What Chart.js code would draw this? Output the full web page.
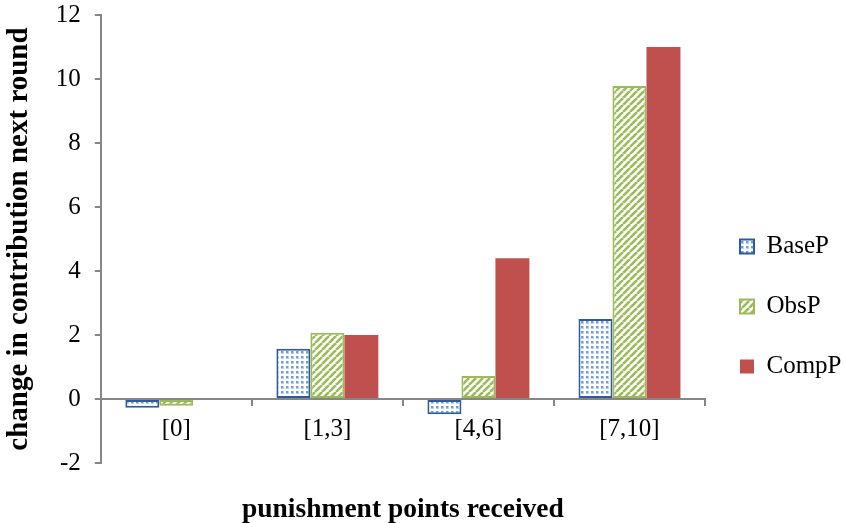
<!DOCTYPE html>
<html><head><meta charset="utf-8">
<script src="https://cdn.jsdelivr.net/npm/chart.js@4"></script>
<style>html,body{margin:0;padding:0;background:#fff}#wrap{width:845px;height:523px}</style>
</head><body><div id="wrap"><canvas id="c" width="845" height="523"></canvas></div>
<script>
const categories = ['[0]', '[1,3]', '[4,6]', '[7,10]'];
const seriesNames = ['BaseP', 'ObsP', 'CompP'];
const baseP = [-0.27, 1.57, -0.48, 2.5];
const obsP = [-0.21, 2.07, 0.72, 9.78];
const compP = [null, 2.0, 4.4, 11.0];
const yTicks = [-2, 0, 2, 4, 6, 8, 10, 12];

function dotPattern() {
  const c = document.createElement('canvas'); c.width = 5; c.height = 5;
  const g = c.getContext('2d');
  g.fillStyle = '#ffffff'; g.fillRect(0, 0, 5, 5);
  g.fillStyle = '#b8cfee'; g.fillRect(0, 0, 4, 4);
  g.fillStyle = '#ffffff'; g.fillRect(0, 0, 4, 1); g.fillRect(0, 0, 1, 4);
  g.fillStyle = '#6f9bd6'; g.fillRect(1, 1, 2, 2);
  return g.createPattern(c, 'repeat');
}
function stripePattern() {
  const s = 7;
  const c = document.createElement('canvas'); c.width = s; c.height = s;
  const g = c.getContext('2d');
  g.fillStyle = '#ffffff'; g.fillRect(0, 0, s, s);
  g.strokeStyle = '#9bbb59'; g.lineWidth = 2.6;
  for (let k = -1; k <= 1; k++) {
    g.beginPath(); g.moveTo(k * s, s); g.lineTo(k * s + s, 0); g.stroke();
  }
  return g.createPattern(c, 'repeat');
}
const axisColor = '#868686';
const serif = "'Liberation Serif', 'Times New Roman', serif";

new Chart(document.getElementById('c'), {
  type: 'bar',
  data: {
    labels: categories,
    datasets: [
      { label: seriesNames[0], data: baseP, backgroundColor: dotPattern(), borderColor: '#2c5a9c', borderWidth: 2, borderSkipped: false },
      { label: seriesNames[1], data: obsP, backgroundColor: stripePattern(), borderColor: '#9bbb59', borderWidth: 2, borderSkipped: false },
      { label: seriesNames[2], data: compP, backgroundColor: '#c0504d', borderColor: '#c0504d', borderWidth: 0 }
    ]
  },
  options: {
    responsive: false,
    animation: false,
    devicePixelRatio: 1,
    categoryPercentage: 0.675,
    barPercentage: 1,
    layout: { padding: { top: 0, left: 2, right: 0, bottom: 0 } },
    plugins: {
      tooltip: { enabled: false },
      legend: {
        position: 'right',
        maxWidth: 140,
        title: { display: true, text: ' ', padding: 39, font: { size: 10 } },
        labels: { boxWidth: 14, boxHeight: 14, padding: 35, color: '#000', font: { family: serif, size: 25 } }
      },
      title: {
        display: true, position: 'bottom', fullSize: false, text: 'punishment points received',
        color: '#000', font: { family: serif, size: 27.5, weight: 'bold' }, padding: { top: 30, bottom: -3 }
      }
    },
    scales: {
      x: {
        position: { y: 0 },
        grid: { drawOnChartArea: false, color: axisColor, tickLength: 6, lineWidth: 2 },
        border: { color: axisColor, width: 2 },
        ticks: { color: '#000', font: { family: serif, size: 25 }, padding: 9 }
      },
      y: {
        min: -2, max: 12,
        afterBuildTicks: (ax) => { ax.ticks = yTicks.map(v => ({ value: v })); },
        afterFit: (ax) => { ax.paddingTop = 15; },
        grid: { drawOnChartArea: false, color: axisColor, tickLength: 6, lineWidth: 2 },
        border: { color: axisColor, width: 2 },
        ticks: { color: '#000', font: { family: serif, size: 25 }, padding: 14 },
        title: { display: true, text: 'change in contribution next round', color: '#000', font: { family: serif, size: 29, weight: 'bold' }, padding: { top: 0, bottom: 5 } }
      }
    }
  }
});
</script></body></html>
